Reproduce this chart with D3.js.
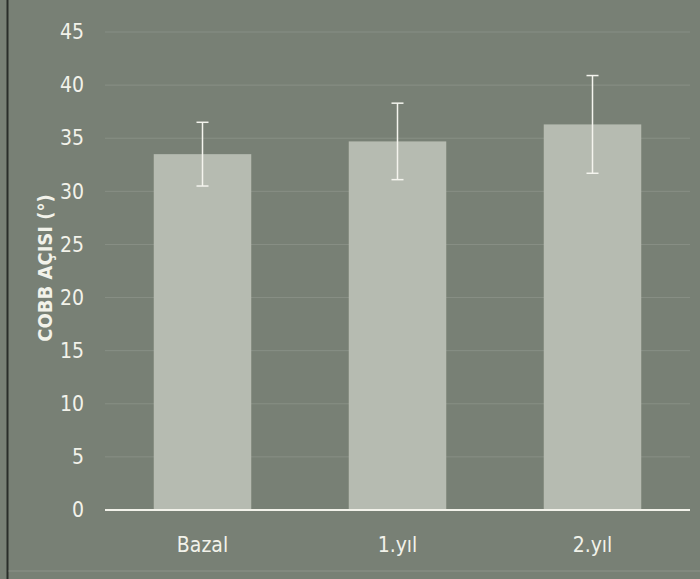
<!DOCTYPE html>
<html>
<head>
<meta charset="utf-8">
<script src="https://cdn.jsdelivr.net/npm/d3@7/dist/d3.min.js"></script>
<style>
  html, body { margin: 0; padding: 0; background: #788075; }
  svg { display: block; }
</style>
</head>
<body>
<svg id="chart" width="700" height="579"></svg>
<script>
// Cobb angle per visit: mean and error (±)
const categories = ["Bazal", "1.yıl", "2.yıl"];
const means = [33.5, 34.7, 36.3];
const errors = [3.0, 3.6, 4.6];
const yTicks = [0, 5, 10, 15, 20, 25, 30, 35, 40, 45];
const yTitle = "COBB AÇISI (°)";

const FONT = "'DejaVu Sans Condensed', 'Liberation Sans Narrow', 'Open Sans', sans-serif";

const svg = d3.select("#chart");
const W = 700, H = 579;

// Background panel and left edge
svg.append("rect").attr("width", W).attr("height", H).attr("fill", "#788075");
svg.append("line").attr("x1", 7.5).attr("x2", 7.5).attr("y1", 0).attr("y2", H)
  .attr("stroke", "#2a2e2a").attr("stroke-width", 2);

const x = d3.scaleBand().domain(categories)
  .range([105, 690]).paddingInner(0.5).paddingOuter(0.25);
const y = d3.scaleLinear().domain([0, 45]).range([510, 32]);

// Gridlines
svg.append("g").selectAll("line").data(yTicks.filter(t => t > 0)).join("line")
  .attr("x1", 105).attr("x2", 690)
  .attr("y1", d => y(d)).attr("y2", d => y(d))
  .attr("stroke", "#ffffff").attr("stroke-opacity", 0.12).attr("stroke-width", 1);

// Y axis labels
const yAxis = d3.axisLeft(y).tickValues(yTicks).tickSize(0).tickPadding(0);
const gy = svg.append("g").attr("transform", "translate(84,0)").call(yAxis);
gy.select(".domain").remove();
gy.selectAll("text").attr("fill", "#f2f2ea").attr("font-size", 21)
  .attr("font-family", FONT);

// Bars
svg.append("g").selectAll("rect").data(categories).join("rect")
  .attr("x", d => x(d)).attr("width", x.bandwidth())
  .attr("y", (d, i) => y(means[i])).attr("height", (d, i) => y(0) - y(means[i]))
  .attr("fill", "#b6bbb1");

// Error bars
const eb = svg.append("g").attr("stroke", "#f4f4ee").attr("stroke-width", 1.5);
categories.forEach((c, i) => {
  const cx = x(c) + x.bandwidth() / 2;
  const yt = y(means[i] + errors[i]), yb = y(means[i] - errors[i]);
  eb.append("line").attr("x1", cx).attr("x2", cx).attr("y1", yt).attr("y2", yb);
  eb.append("line").attr("x1", cx - 6).attr("x2", cx + 6).attr("y1", yt).attr("y2", yt);
  eb.append("line").attr("x1", cx - 6).attr("x2", cx + 6).attr("y1", yb).attr("y2", yb);
});

// Baseline
svg.append("line").attr("x1", 105).attr("x2", 690).attr("y1", y(0)).attr("y2", y(0))
  .attr("stroke", "#f2f2ea").attr("stroke-width", 2);

// Category labels
const xAxis = d3.axisBottom(x).tickSize(0).tickPadding(0);
const gx = svg.append("g").attr("transform", "translate(0,537)").call(xAxis);
gx.select(".domain").remove();
gx.selectAll("text").attr("fill", "#f2f2ea").attr("font-size", 21)
  .attr("font-family", FONT);

// Faint bottom rule
svg.append("line").attr("x1", 8).attr("x2", W).attr("y1", 571).attr("y2", 571)
  .attr("stroke", "#ffffff").attr("stroke-opacity", 0.15);

// Y title
svg.append("text")
  .attr("transform", "translate(52,268) rotate(-90)")
  .attr("text-anchor", "middle")
  .attr("fill", "#f2f2ea").attr("font-size", 20).attr("font-weight", "bold")
  .attr("font-family", FONT)
  .text(yTitle);
</script>
</body>
</html>
